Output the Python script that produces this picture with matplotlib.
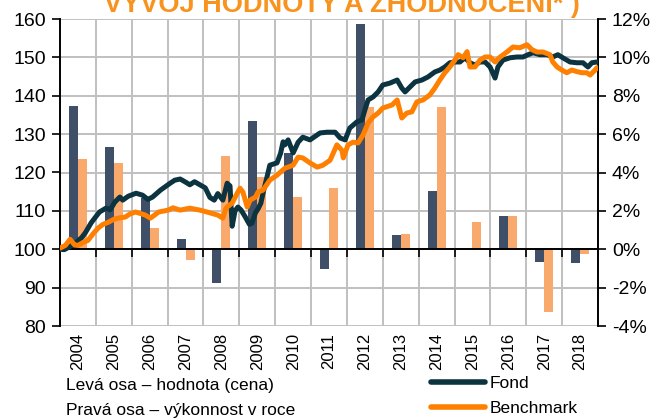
import numpy as np
import matplotlib
matplotlib.use("Agg")
import matplotlib.pyplot as plt
from matplotlib.lines import Line2D
from matplotlib.ticker import FuncFormatter

plt.rcParams['font.family'] = ['Liberation Sans', 'DejaVu Sans']

# ---------------- data ----------------
years = [str(y) for y in range(2004, 2019)]
fond_ret = [7.48, 5.35, 2.65, 0.52, -1.75, 6.70, 5.00, -1.04, 11.76, 0.73, 3.03, 0.0, 1.71, -0.66, -0.71]
bench_ret = [4.71, 4.50, 1.10, -0.57, 4.85, 3.76, 2.72, 3.20, 7.40, 0.78, 7.43, 1.42, 1.71, -3.29, -0.26]

fond_t = [2004.00, 2004.12, 2004.30, 2004.45, 2004.60, 2004.70, 2004.87, 2005.00, 2005.10, 2005.28,
          2005.40, 2005.53, 2005.67, 2005.75, 2005.90, 2006.12, 2006.30, 2006.45, 2006.58, 2006.80,
          2007.07, 2007.20, 2007.35, 2007.50, 2007.62, 2007.75, 2007.90, 2008.05, 2008.18, 2008.30,
          2008.40, 2008.54, 2008.66, 2008.74, 2008.80, 2008.88, 2008.96, 2009.05, 2009.16, 2009.28,
          2009.35, 2009.45, 2009.52, 2009.60, 2009.66, 2009.75, 2009.85, 2010.05, 2010.15, 2010.22,
          2010.27, 2010.36, 2010.50, 2010.64, 2010.77, 2010.97, 2011.25, 2011.44, 2011.67, 2011.81,
          2011.95, 2012.08, 2012.28, 2012.42, 2012.50, 2012.59, 2012.73, 2012.87, 2013.00, 2013.20,
          2013.40, 2013.53, 2013.62, 2013.76, 2013.90, 2014.09, 2014.26, 2014.45, 2014.59, 2014.73,
          2014.87, 2015.01, 2015.15, 2015.29, 2015.43, 2015.57, 2015.71, 2015.85, 2015.99, 2016.13,
          2016.21, 2016.35, 2016.55, 2016.74, 2016.91, 2017.05, 2017.19, 2017.38, 2017.58, 2017.74,
          2017.88, 2018.02, 2018.22, 2018.41, 2018.58, 2018.72, 2018.83, 2018.97]
fond_v = [100.0, 99.9, 100.8, 101.8, 103.0, 104.2, 106.9, 108.5, 109.7, 110.7,
          110.3, 112.3, 113.6, 112.8, 113.8, 114.6, 114.1, 113.0, 113.6, 115.4,
          117.2, 118.0, 118.3, 117.5, 116.8, 117.6, 116.8, 116.0, 113.5, 112.8,
          114.5, 112.8, 117.2, 116.5, 106.0, 110.0, 111.0, 110.2, 108.5, 106.5,
          106.8, 109.5, 110.5, 112.0, 114.6, 118.0, 121.9, 122.5, 125.0, 128.0,
          127.2, 128.5, 125.1, 127.9, 129.2, 128.5, 130.3, 130.5, 130.5, 129.0,
          128.5, 131.6, 133.2, 133.7, 136.3, 138.9, 139.7, 141.0, 142.8, 143.3,
          144.1, 142.0, 141.0, 142.3, 143.6, 144.1, 144.9, 146.2, 146.7, 147.5,
          148.6, 148.8, 148.8, 149.9, 148.6, 148.0, 148.8, 148.8, 147.5, 144.6,
          147.5, 149.3, 149.9, 150.1, 150.1, 150.7, 151.2, 150.7, 150.7, 150.1,
          150.7, 149.9, 148.8, 148.6, 148.6, 147.5, 148.6, 148.8]

bench_t = [2004.00, 2004.15, 2004.28, 2004.40, 2004.50, 2004.65, 2004.78, 2004.92, 2005.06, 2005.20,
           2005.34, 2005.50, 2005.62, 2005.82, 2005.95, 2006.10, 2006.25, 2006.38, 2006.52, 2006.65,
           2006.75, 2007.02, 2007.15, 2007.35, 2007.62, 2007.90, 2008.10, 2008.40, 2008.54, 2008.62,
           2008.66, 2008.80, 2008.94, 2009.02, 2009.10, 2009.22, 2009.30, 2009.45, 2009.52, 2009.66,
           2009.85, 2010.05, 2010.27, 2010.50, 2010.64, 2010.77, 2010.97, 2011.17, 2011.33, 2011.53,
           2011.72, 2011.86, 2011.90, 2012.03, 2012.17, 2012.31, 2012.45, 2012.59, 2012.73, 2012.87,
           2013.00, 2013.26, 2013.40, 2013.53, 2013.67, 2013.81, 2013.95, 2014.12, 2014.31, 2014.45,
           2014.59, 2014.73, 2014.87, 2015.01, 2015.10, 2015.24, 2015.35, 2015.43, 2015.57, 2015.71,
           2015.85, 2015.99, 2016.13, 2016.27, 2016.46, 2016.63, 2016.82, 2017.02, 2017.16, 2017.30,
           2017.47, 2017.66, 2017.74, 2017.86, 2017.99, 2018.13, 2018.27, 2018.41, 2018.55, 2018.69,
           2018.78, 2018.92, 2018.97]
bench_v = [100.3, 101.0, 102.6, 101.2, 101.0, 101.8, 102.3, 104.0, 105.5, 106.5,
           107.0, 107.8, 108.1, 108.4, 109.2, 109.7, 109.3, 108.9, 108.1, 109.0,
           109.7, 110.2, 110.8, 110.2, 110.7, 110.2, 109.7, 108.9, 108.1, 110.5,
           111.0, 112.0, 114.6, 115.9, 114.9, 111.0, 112.8, 113.6, 114.9, 115.4,
           118.0, 119.3, 121.1, 121.9, 124.0, 123.8, 122.5, 121.4, 121.9, 123.2,
           127.2, 125.8, 123.8, 127.2, 127.9, 127.7, 129.8, 132.9, 134.5, 135.5,
           136.8, 137.6, 138.9, 134.2, 135.5, 135.8, 138.4, 138.9, 140.2, 142.0,
           144.1, 146.0, 147.5, 149.3, 150.7, 149.9, 151.5, 147.5, 147.5, 149.3,
           150.1, 150.1, 148.8, 150.1, 151.4, 152.7, 152.5, 153.3, 152.0, 151.4,
           151.4, 150.7, 148.8, 147.5, 146.7, 146.0, 146.7, 146.3, 146.0, 146.0,
           145.4, 146.7, 147.3]

left_ticks = list(range(80, 161, 10))
right_ticks = list(range(-4, 13, 2))

# ---------------- style ----------------
fond_line_c = '#0b3340'
bench_line_c = '#ff8000'
fond_bar_c = '#3e4f67'
bench_bar_c = '#f9a96b'
grid_c = '#c0c0c0'

fig = plt.figure(figsize=(6.52, 4.19), dpi=100)
rect = [60 / 652, 1 - 326 / 419, 538 / 652, 307 / 419]
ax = fig.add_axes(rect)
ax2 = fig.add_axes(rect, facecolor='none')

# bars (right axis, %)
x = np.arange(len(years))
w = 0.25
ax.bar(x - w / 2, fond_ret, w, color=fond_bar_c, zorder=2)
ax.bar(x + w / 2, bench_ret, w, color=bench_bar_c, zorder=2)
ax.set_xlim(-0.5, len(years) - 0.5)
ax.set_ylim(-4, 12)
ax.set_yticks(right_ticks)
ax.yaxis.set_major_formatter(FuncFormatter(lambda v, p: f"{int(v)}%"))
ax.yaxis.tick_right()
ax.set_xticks(np.arange(0.5, len(years) - 1, 1))
ax.set_axisbelow(True)
ax.grid(True, color=grid_c, lw=1.4)
ax.spines['bottom'].set_position(('data', 0))
ax.spines['bottom'].set_linewidth(1.4)
ax.spines['right'].set_linewidth(1.4)
ax.spines['left'].set_visible(False)
ax.spines['top'].set_visible(False)
ax.tick_params(axis='x', length=6, width=1.2, direction='out', labelbottom=False)
ax.tick_params(axis='y', length=6, width=1.2, direction='out', labelsize=14, pad=4)

# lines (left axis, value)
ax2.plot(fond_t, fond_v, color=fond_line_c, lw=3.6, solid_capstyle='round', zorder=4)
ax2.plot(bench_t, bench_v, color=bench_line_c, lw=3.6, solid_capstyle='round', zorder=5)
ax2.set_xlim(2004, 2019)
ax2.set_ylim(80, 160)
ax2.set_yticks(left_ticks)
ax2.set_xticks(np.arange(2004.5, 2019, 1))
ax2.set_xticklabels(years, rotation=90)
ax2.tick_params(axis='x', length=0, labelsize=12, pad=5)
ax2.tick_params(axis='y', length=6, width=1.2, direction='out', labelsize=14, pad=4)
for s in ['top', 'right', 'bottom']:
    ax2.spines[s].set_visible(False)
ax2.spines['left'].set_linewidth(1.4)

# title (partly cut at top)
fig.text(342 / 652, 1 - 12 / 419, "VÝVOJ HODNOTY A ZHODNOCENÍ* )", ha='center', va='baseline',
         fontsize=19.5, fontweight='bold', color='#f7931e')

# bottom texts
fig.text(66 / 652, 1 - 385 / 419, "Levá osa – hodnota (cena)", va='center', fontsize=12.5)
fig.text(66 / 652, 1 - 410 / 419, "Pravá osa – výkonnost v roce", va='center', fontsize=12.5)

handles = [Line2D([], [], color=fond_line_c, lw=4, solid_capstyle='round'),
           Line2D([], [], color=bench_line_c, lw=4, solid_capstyle='round')]
fig.legend(handles, ['Fond', 'Benchmark'], loc='upper left',
           bbox_to_anchor=(431 / 652, 1 - 376 / 419), frameon=False, fontsize=12.5,
           handlelength=3.1, handletextpad=0.3, labelspacing=0.58, borderaxespad=0, borderpad=0)

fig.savefig('out.png', dpi=100)
